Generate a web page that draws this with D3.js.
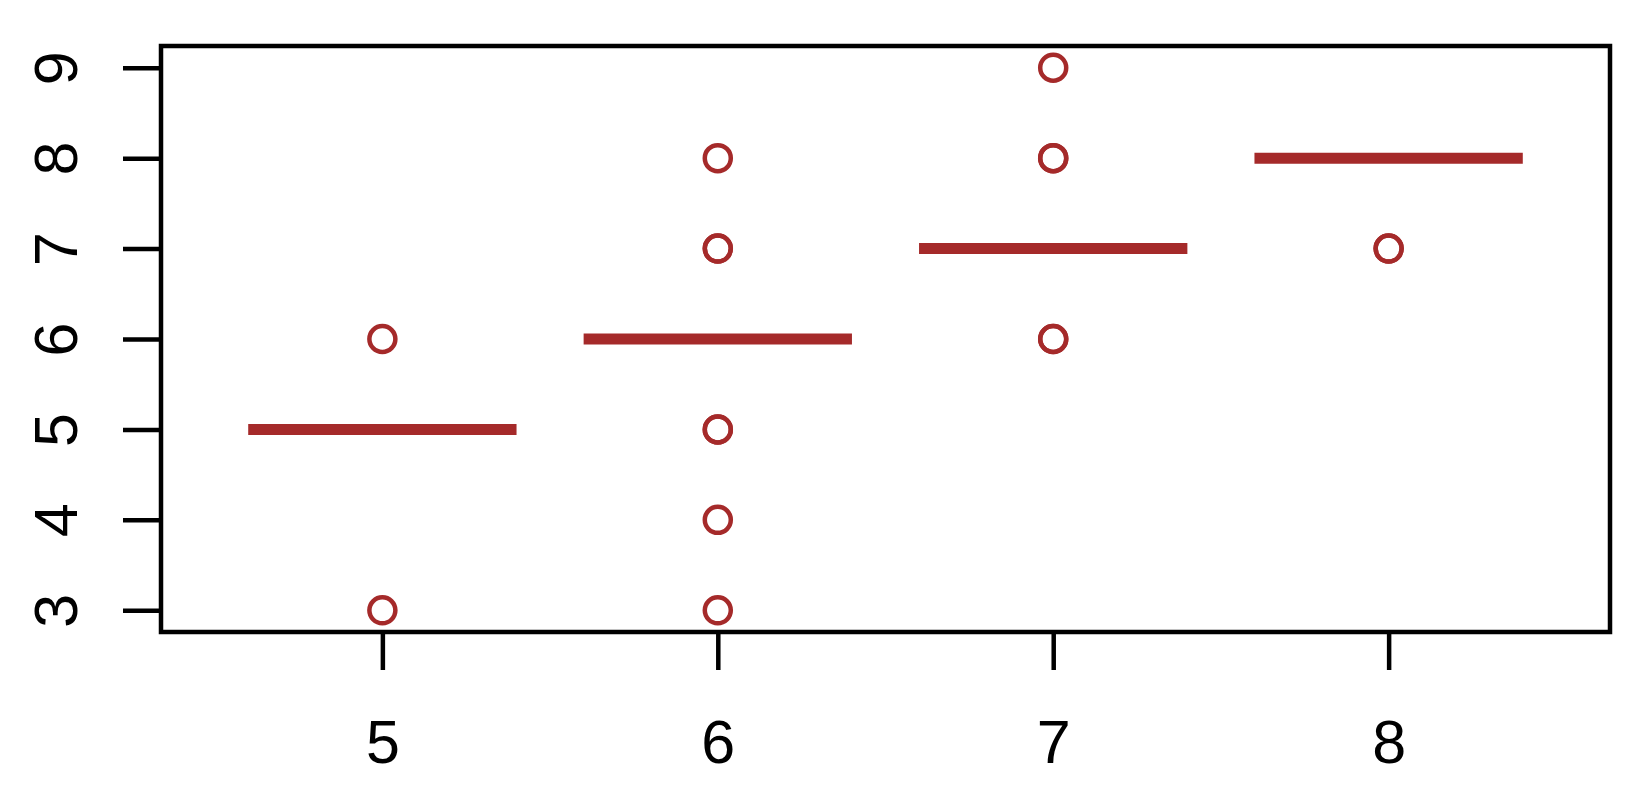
<!DOCTYPE html>
<html>
<head>
<meta charset="utf-8">
<script src="https://cdn.jsdelivr.net/npm/d3@7"></script>
<style>
  html, body { margin: 0; padding: 0; background: #fff; }
  svg { display: block; }
  text { font-family: "Liberation Sans", Arial, sans-serif; }
</style>
</head>
<body>
<svg id="chart" width="1650" height="794"></svg>
<script>
// Data
const categories = ["5", "6", "7", "8"];
const medians = [5, 6, 7, 8];
const outliers = [
  [6, 3],
  [8, 7, 7, 5, 5, 4, 3],
  [9, 8, 8, 6, 6],
  [7, 7]
];
const yTicks = [3, 4, 5, 6, 7, 8, 9];

const W = 1650, H = 794;
const plot = { left: 161, right: 1610, top: 46, bottom: 632 };
const color = "#A52A2A";
const fontSize = 61;

const svg = d3.select("#chart");

// R-style extended ranges (4%)
const x = d3.scaleLinear()
  .domain([0.5 - 0.16, 4.5 + 0.16])
  .range([plot.left, plot.right]);
const yMin = 3, yMax = 9, ext = (yMax - yMin) * 0.04;
const y = d3.scaleLinear()
  .domain([yMin - ext, yMax + ext])
  .range([plot.bottom, plot.top]);

const boxW = 0.8;

// median lines
svg.append("g").selectAll("line")
  .data(medians)
  .join("line")
  .attr("x1", (d, i) => x(i + 1 - boxW / 2))
  .attr("x2", (d, i) => x(i + 1 + boxW / 2))
  .attr("y1", d => y(d))
  .attr("y2", d => y(d))
  .attr("stroke", color)
  .attr("stroke-width", 11)
  .attr("stroke-linecap", "butt");

// outlier points
const pts = [];
outliers.forEach((arr, i) => arr.forEach(v => pts.push({ i: i + 1, v })));
svg.append("g").selectAll("circle")
  .data(pts)
  .join("circle")
  .attr("cx", d => x(d.i))
  .attr("cy", d => y(d.v))
  .attr("r", 13)
  .attr("fill", "none")
  .attr("stroke", color)
  .attr("stroke-width", 4.5);

// frame
svg.append("rect")
  .attr("x", plot.left)
  .attr("y", plot.top)
  .attr("width", plot.right - plot.left)
  .attr("height", plot.bottom - plot.top)
  .attr("fill", "none")
  .attr("stroke", "#000")
  .attr("stroke-width", 4.5);

// x axis
const xAxis = d3.axisBottom(x)
  .tickValues([1, 2, 3, 4])
  .tickFormat((d, i) => categories[i])
  .tickSize(38)
  .tickPadding(0);
const gx = svg.append("g")
  .attr("transform", `translate(0,${plot.bottom})`)
  .call(xAxis);
gx.select(".domain").remove();
gx.selectAll(".tick line").attr("stroke", "#000").attr("stroke-width", 4.5);
gx.selectAll(".tick text")
  .attr("fill", "#000")
  .style("font-size", fontSize + "px")
  .attr("y", 763 - plot.bottom)
  .attr("dy", null);

// y axis
const yAxis = d3.axisLeft(y)
  .tickValues(yTicks)
  .tickFormat(d3.format("d"))
  .tickSize(38)
  .tickPadding(0);
const gy = svg.append("g")
  .attr("transform", `translate(${plot.left},0)`)
  .call(yAxis);
gy.select(".domain").remove();
gy.selectAll(".tick line").attr("stroke", "#000").attr("stroke-width", 4.5);
gy.selectAll(".tick text")
  .attr("fill", "#000")
  .style("font-size", fontSize + "px")
  .attr("x", null)
  .attr("dy", null)
  .attr("text-anchor", "middle")
  .attr("transform", `translate(${77 - plot.left},0) rotate(-90)`);
</script>
</body>
</html>
